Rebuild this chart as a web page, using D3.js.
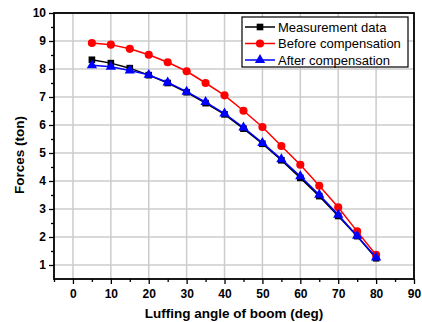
<!DOCTYPE html>
<html>
<head>
<meta charset="utf-8">
<script src="https://cdn.jsdelivr.net/npm/d3@7"></script>
<style>
  body { margin: 0; background: #fff; }
  svg { display: block; font-family: Arial, "Liberation Sans", sans-serif; }
  .tick text { font-weight: bold; font-size: 12px; fill: #000; }
</style>
</head>
<body>
<div id="vis"></div>
<script>
const angles = [5, 10, 15, 20, 25, 30, 35, 40, 45, 50, 55, 60, 65, 70, 75, 80]
const measured = [8.33, 8.21, 8.03, 7.78, 7.5, 7.17, 6.78, 6.38, 5.87, 5.33, 4.74, 4.11, 3.46, 2.75, 2.03, 1.24]
const before = [8.93, 8.87, 8.72, 8.51, 8.24, 7.92, 7.5, 7.06, 6.51, 5.93, 5.25, 4.58, 3.83, 3.06, 2.2, 1.36]
const after = [8.13, 8.08, 7.95, 7.79, 7.52, 7.19, 6.82, 6.41, 5.91, 5.36, 4.78, 4.17, 3.51, 2.79, 2.04, 1.27]
const seriesNames = ['Measurement data', 'Before compensation', 'After compensation']
const xTicks = [0, 10, 20, 30, 40, 50, 60, 70, 80, 90]
const yTicks = [1, 2, 3, 4, 5, 6, 7, 8, 9, 10]

const width = 422, height = 322
const margin = { top: 13, right: 8, bottom: 43, left: 54 }

const svg = d3.select('#vis').append('svg')
  .attr('width', width)
  .attr('height', height)

const x = d3.scaleLinear().domain([-5, 90]).range([margin.left, width - margin.right])
const y = d3.scaleLinear().domain([0.5, 10]).range([height - margin.bottom, margin.top])

// grid
svg.append('g').selectAll('line').data(xTicks).enter().append('line')
  .attr('x1', d => x(d)).attr('x2', d => x(d))
  .attr('y1', y(0.5)).attr('y2', y(10))
  .attr('stroke', '#cccccc').attr('stroke-width', 1.5)
svg.append('g').selectAll('line').data(yTicks).enter().append('line')
  .attr('x1', x(-5)).attr('x2', x(90))
  .attr('y1', d => y(d)).attr('y2', d => y(d))
  .attr('stroke', '#cccccc').attr('stroke-width', 1.5)

// minor ticks
svg.append('g')
  .attr('transform', `translate(0,${y(0.5)})`)
  .call(d3.axisBottom(x).tickValues(d3.range(-5, 91, 10)).tickSize(3).tickFormat(''))
  .call(g => g.select('.domain').remove())
svg.append('g')
  .attr('transform', `translate(${x(-5)},0)`)
  .call(d3.axisLeft(y).tickValues(d3.range(1.5, 10, 1)).tickSize(3).tickFormat(''))
  .call(g => g.select('.domain').remove())

// major axes
svg.append('g')
  .attr('transform', `translate(0,${y(0.5)})`)
  .call(d3.axisBottom(x).tickValues(xTicks).tickSize(5).tickPadding(5).tickSizeOuter(0))
  .call(g => g.select('.domain').remove())
svg.append('g')
  .attr('transform', `translate(${x(-5)},0)`)
  .call(d3.axisLeft(y).tickValues(yTicks).tickSize(5).tickPadding(3).tickSizeOuter(0))
  .call(g => g.select('.domain').remove())
svg.selectAll('.tick line').attr('stroke', '#000').attr('stroke-width', 1.3)

// frame
svg.append('rect')
  .attr('x', x(-5)).attr('y', y(10))
  .attr('width', x(90) - x(-5)).attr('height', y(0.5) - y(10))
  .attr('fill', 'none').attr('stroke', '#000').attr('stroke-width', 1.8)

const series = [
  { name: seriesNames[0], values: measured, color: '#000000', symbol: d3.symbolSquare, size: 44 },
  { name: seriesNames[1], values: before, color: '#ff0000', symbol: d3.symbolCircle, size: 52 },
  { name: seriesNames[2], values: after, color: '#0000ff', symbol: d3.symbolTriangle, size: 46 }
]

const line = d3.line().x(d => x(d[0])).y(d => y(d[1]))

for (const s of series) {
  const pts = angles.map((a, i) => [a, s.values[i]])
  svg.append('path')
    .datum(pts)
    .attr('d', line)
    .attr('fill', 'none')
    .attr('stroke', s.color)
    .attr('stroke-width', 1.5)
  svg.append('g').selectAll('path').data(pts).enter().append('path')
    .attr('d', d3.symbol().type(s.symbol).size(s.size))
    .attr('transform', d => `translate(${x(d[0])},${y(d[1])})`)
    .attr('fill', s.color)
}

// legend
const legend = svg.append('g').attr('transform', 'translate(242,17)')
legend.append('rect')
  .attr('width', 166).attr('height', 50)
  .attr('fill', '#fff').attr('stroke', '#000').attr('stroke-width', 1.2)
series.forEach((s, i) => {
  const row = legend.append('g').attr('transform', `translate(0,${10 + i * 16.5})`)
  row.append('line')
    .attr('x1', 3).attr('x2', 33)
    .attr('stroke', s.color).attr('stroke-width', 1.5)
  row.append('path')
    .attr('d', d3.symbol().type(s.symbol).size(s.size))
    .attr('transform', 'translate(18,0)')
    .attr('fill', s.color)
  row.append('text')
    .attr('x', 36).attr('y', 4.5)
    .attr('font-size', 13)
    .text(s.name)
})

// axis titles
svg.append('text')
  .attr('x', (x(-5) + x(90)) / 2)
  .attr('y', 318)
  .attr('text-anchor', 'middle')
  .attr('font-weight', 'bold')
  .attr('font-size', 13.5)
  .text('Luffing angle of boom (deg)')
svg.append('text')
  .attr('transform', 'translate(24,155) rotate(-90)')
  .attr('text-anchor', 'middle')
  .attr('font-weight', 'bold')
  .attr('font-size', 13.5)
  .text('Forces (ton)')
</script>
</body>
</html>
